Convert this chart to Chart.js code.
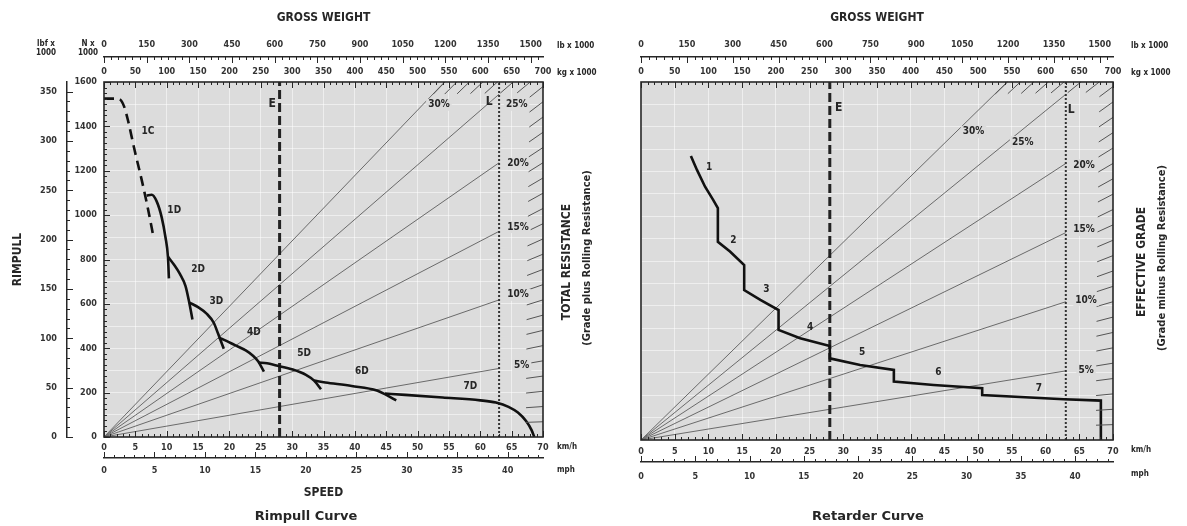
<!DOCTYPE html>
<html>
<head>
<meta charset="utf-8">
<script src="https://cdn.jsdelivr.net/npm/chart.js@4.4.1/dist/chart.umd.min.js"></script>
<style>
  html, body { margin: 0; padding: 0; background: #fff; }
  #wrap { position: relative; width: 1187px; height: 526px; }
  canvas { position: absolute; top: 0; }
  #rimpull { left: 0; }
  #retarder { left: 600px; }
</style>
</head>
<body>
<div id="wrap">
  <canvas id="rimpull" width="600" height="526"></canvas>
  <canvas id="retarder" width="587" height="526"></canvas>
</div>
<script>
const INK = "#262626";
const PLOT_BG = "#dcdcdc";
const GRID = "rgba(255,255,255,0.5)";
const COND = "'Liberation Sans Narrow', 'DejaVu Sans Condensed', 'Arial Narrow', sans-serif";

// secondary scales are unit conversions of the primary ones
const KMH_MAX = 70, MPH_MAX = 70 / 1.609344;
const KN_MAX = 1600, KLBF_MAX = 1600 / 4.44822;
const T_MAX = 700, KLB_MAX = 700 * 2.20462;
const G = 9.81; // kN per tonne, used for the grade scale ticks

/* rimpull curve: [km/h, kN] per gear */
const gear1C = [[0,1525],[1.8,1525],[2.6,1520],[3.2,1490],[3.8,1430],[4.9,1290],[6.0,1160],[7.0,1030],[7.9,900]];
const gear1D = [[6.8,1088],[7.6,1092],[8.4,1062],[9.2,990],[9.8,900],[10.2,810],[10.35,715]];
const gear2D = [[10.2,812],[11.2,775],[12.1,735],[13.0,680],[13.6,605],[14.1,530]];
const gear3D = [[13.6,606],[15.0,585],[16.4,555],[17.5,515],[18.2,465],[18.6,435],[19.1,398]];
const gear4D = [[18.3,448],[19.6,432],[20.8,415],[22.6,390],[23.8,365],[24.6,340],[25.5,295]];
const gear5D = [[24.6,336],[26.0,332],[27.5,322],[30.1,304],[32.2,280],[33.5,254],[34.6,215]];
const gear6D = [[33.5,254],[35.3,246],[39.5,230],[43.5,210],[45.0,190],[46.6,165]];
const gear7D = [[44.8,196],[48,190],[54,178],[60,165],[62.5,155],[64.5,136],[66,110],[67.3,72],[68.2,30],[68.6,0]];
const rimpullGears = ["1C","1D","2D","3D","4D","5D","6D","7D"];
const rimpullLabelAt = [[7.0,1376],[11.2,1022],[15.0,757],[17.9,610],[23.9,471],[31.9,376],[41.1,296],[58.4,229]];

/* retarder curve: [km/h, kN] */
const retarderCurve = [[7.4,1269],[8.3,1207],[9.5,1132],[10.7,1073],[11.4,1036],[11.4,886],[13.2,842],[15.3,782],
  [15.3,670],[17.7,626],[20.4,581],[20.4,492],[23.6,455],[28.0,420],[28.0,365],[32.5,335],[37.5,313],[37.5,261],
  [43.4,246],[50.6,231],[50.6,201],[62.7,182],[68.2,176],[68.2,0]];
const retarderGears = ["1","2","3","4","5","6","7"];
const retarderLabelAt = [[10.1,1220],[13.7,890],[18.6,675],[25.1,505],[32.8,393],[44.1,300],[59.0,232]];

/* grade lines: tonnes / kN at the end of each line */
const gradePct = [5, 10, 15, 20, 25, 30];
const gradeEndT = [630, 630, 630, 630, 630, 543];
const gradeEndKN = [309, 618, 927, 1236, 1545, 1600];
const gradeTicks = [1,2,3,4,5,6,7,8,9,10,11,12,13,14,15,16,17,18,19,20,21,22,23,24,25,26,27,28,29,30];
const emptyT = 280, loadedT = 630;

function font(size, bold, family) {
  return (bold ? "bold " : "") + size + "px " + (family || COND);
}

function text(ctx, str, x, y, f, opt) {
  opt = opt || {};
  ctx.save();
  ctx.font = f;
  ctx.textAlign = opt.align || "center";
  ctx.textBaseline = "middle";
  ctx.translate(x, y);
  if (opt.rotate) ctx.rotate(opt.rotate);
  if (opt.bg) {
    const w = ctx.measureText(str).width;
    ctx.fillStyle = opt.bg;
    ctx.fillRect(-w / 2 - 2, -6, w + 4, 12);
  }
  ctx.fillStyle = opt.color || INK;
  ctx.fillText(str, 0, 0);
  ctx.restore();
}

// minor/major tick marks along a scale edge; dir points away from the edge
function tickMarks(ctx, scale, step, major, dir) {
  const n = Math.floor(scale.max / step + 1e-6);
  ctx.beginPath();
  for (let i = 0; i <= n; i++) {
    const v = i * step;
    const len = Math.abs(v / major - Math.round(v / major)) < 1e-6 ? 6 : 3;
    const p = Math.round(scale.getPixelForValue(v)) + 0.5;
    if (scale.isHorizontal()) {
      const y0 = dir > 0 ? scale.bottom : scale.top;
      ctx.moveTo(p, y0);
      ctx.lineTo(p, y0 + dir * len);
    } else {
      ctx.moveTo(scale.right, p);
      ctx.lineTo(scale.right + dir * len, p);
    }
  }
  ctx.stroke();
}

// short grade-scale marks where each 1 % line meets the frame
function gradeScale(ctx, chart) {
  const kg = chart.scales.kg, kN = chart.scales.kN;
  const x0 = kg.getPixelForValue(0), y0 = kN.getPixelForValue(0);
  ctx.beginPath();
  gradeTicks.forEach(g => {
    let w = kg.max, f = g / 100 * w * G;
    if (f > kN.max) { f = kN.max; w = f / (g / 100 * G); }
    const x1 = kg.getPixelForValue(w), y1 = kN.getPixelForValue(f);
    const d = Math.hypot(x1 - x0, y1 - y0);
    ctx.moveTo(x1, y1);
    ctx.lineTo(x1 - (x1 - x0) / d * 17, y1 - (y1 - y0) / d * 17);
  });
  ctx.strokeStyle = "#555";
  ctx.lineWidth = 1;
  ctx.stroke();
}

function curveSet(points, extra) {
  return Object.assign({
    data: points.map(([x, y]) => ({ x, y })),
    xAxisID: "kmh", yAxisID: "kN", showLine: true,
    borderColor: "#111", borderWidth: 2.6, pointRadius: 0,
    cubicInterpolationMode: "monotone"
  }, extra);
}

function referenceSets() {
  const sets = [
    { data: [{ x: emptyT, y: 0 }, { x: emptyT, y: KN_MAX }], borderDash: [9, 4], borderWidth: 3, borderColor: "#222" },
    { data: [{ x: loadedT, y: 0 }, { x: loadedT, y: KN_MAX }], borderDash: [2, 2], borderWidth: 2, borderColor: "#333" }
  ];
  gradePct.forEach((g, i) => sets.push({
    data: [{ x: 0, y: 0 }, { x: gradeEndT[i], y: gradeEndKN[i] }],
    borderColor: "#6a6a6a", borderWidth: 1
  }));
  return sets.map(s => Object.assign({ xAxisID: "kg", yAxisID: "kN", showLine: true, pointRadius: 0 }, s));
}

const plain = v => String(v);

function buildScales(p) {
  const tk = { color: "#333", font: { family: COND, size: 9, weight: "bold" }, autoSkip: false,
    maxRotation: 0, includeBounds: false, callback: plain };
  const scales = {
    kmh: { axis: "x", type: "linear", position: "bottom", weight: 0, min: 0, max: KMH_MAX,
      ticks: Object.assign({}, tk, { stepSize: 5, padding: p.kmhPad }),
      grid: { color: GRID, drawTicks: false }, border: { display: false },
      afterFit: s => { s.height = p.kmhH; } },
    mph: { axis: "x", type: "linear", position: "bottom", weight: 1, min: 0, max: MPH_MAX,
      ticks: Object.assign({}, tk, { stepSize: 5, padding: p.mphPad }),
      grid: { display: false, drawTicks: false }, border: { color: INK, width: 1.5 },
      afterFit: s => { s.height = p.mphH; } },
    kg: { axis: "x", type: "linear", position: "top", weight: 0, min: 0, max: T_MAX,
      ticks: Object.assign({}, tk, { stepSize: 50, padding: 5 }),
      grid: { display: false, drawTicks: false }, border: { display: false },
      afterFit: s => { s.height = 25; } },
    lb: { axis: "x", type: "linear", position: "top", weight: 1, min: 0, max: KLB_MAX,
      ticks: Object.assign({}, tk, { stepSize: 150, padding: 7 }),
      grid: { display: false, drawTicks: false }, border: { color: INK, width: 1.5 },
      afterFit: s => { s.height = 20; } },
    kN: { axis: "y", type: "linear", position: "left", weight: 0, min: 0, max: KN_MAX,
      ticks: Object.assign({}, tk, { stepSize: 100, padding: 7, display: p.forceLabels,
        callback: v => (v % 200 === 0 ? String(v) : "") }),
      grid: { color: GRID, drawTicks: false }, border: { display: false },
      afterFit: s => { s.width = p.kNW; } }
  };
  if (p.forceLabels) {
    scales.klbf = { axis: "y", type: "linear", position: "left", weight: 1, min: 0, max: KLBF_MAX,
      ticks: Object.assign({}, tk, { stepSize: 50, padding: 10 }),
      grid: { display: false, drawTicks: false }, border: { color: INK, width: 1.5 },
      afterFit: s => { s.width = 47; } };
  }
  return scales;
}

function panelDecor(p) {
  return {
    id: "panelDecor",
    beforeDraw(chart) {
      const a = chart.chartArea, ctx = chart.ctx;
      ctx.save();
      ctx.fillStyle = PLOT_BG;
      ctx.fillRect(a.left, a.top, a.right - a.left, a.bottom - a.top);
      ctx.restore();
    },
    afterDraw(chart) {
      const a = chart.chartArea, ctx = chart.ctx, s = chart.scales;
      ctx.save();
      gradeScale(ctx, chart);
      ctx.strokeStyle = INK;
      ctx.lineWidth = 1;
      tickMarks(ctx, s.kmh, 1, 5, -1);
      tickMarks(ctx, s.mph, 1, 5, -1);
      tickMarks(ctx, s.kg, 10, 50, 1);
      tickMarks(ctx, s.lb, 25, 150, 1);
      if (s.klbf) {
        tickMarks(ctx, s.kN, 25, 200, 1);
        tickMarks(ctx, s.klbf, 10, 50, 1);
      }
      ctx.lineWidth = 1.6;
      ctx.strokeRect(a.left, a.top, a.right - a.left, a.bottom - a.top);
      ctx.restore();

      const cx = (a.left + a.right) / 2;
      const ux = a.right + p.unitGap;
      text(ctx, "GROSS WEIGHT", cx, 18, font(12, true));
      text(ctx, "lb x 1000", ux, 46, font(8, true), { align: "left" });
      text(ctx, "kg x 1000", ux, 73, font(8, true), { align: "left" });
      text(ctx, "km/h", ux, s.kmh.top + 10, font(8, true), { align: "left" });
      text(ctx, "mph", ux, s.mph.top + 12, font(8, true), { align: "left" });
      text(ctx, p.title, p.titleX, 517, font(13, true, "'DejaVu Sans', sans-serif"));
      text(ctx, p.sideTitle, p.sideX, p.sideY, font(12, true), { rotate: -Math.PI / 2 });
      text(ctx, p.sideSub, p.sideX + 20, p.sideY - 4, font(11, true), { rotate: -Math.PI / 2 });

      // gear numbers
      p.gears.forEach((g, i) => {
        const [v, f] = p.gearAt[i];
        text(ctx, g, s.kmh.getPixelForValue(v), s.kN.getPixelForValue(f), font(10, true));
      });
      // grade percentages
      gradePct.forEach((g, i) => {
        const [w, f] = p.pctAt[i];
        text(ctx, g + "%", s.kg.getPixelForValue(w), s.kN.getPixelForValue(f), font(10, true), { bg: PLOT_BG });
      });
      text(ctx, "E", s.kg.getPixelForValue(p.eAt[0]), s.kN.getPixelForValue(p.eAt[1]), font(12, true));
      text(ctx, "L", s.kg.getPixelForValue(p.lAt[0]), s.kN.getPixelForValue(p.lAt[1]), font(12, true));

      if (p.forceLabels) {
        text(ctx, "SPEED", cx, 493, font(12, true));
        text(ctx, "RIMPULL", 18, (a.top + a.bottom) / 2, font(12, true), { rotate: -Math.PI / 2 });
        text(ctx, "lbf x", 46, 44, font(8, true));
        text(ctx, "1000", 46, 53, font(8, true));
        text(ctx, "N x", 88, 44, font(8, true));
        text(ctx, "1000", 88, 53, font(8, true));
      }
    }
  };
}

function makePanel(id, p) {
  return new Chart(document.getElementById(id), {
    type: "scatter",
    data: { datasets: p.datasets.concat(referenceSets()) },
    options: {
      responsive: false, animation: false, devicePixelRatio: 1, events: [],
      layout: { padding: p.padding },
      plugins: { legend: { display: false }, tooltip: { enabled: false } },
      scales: buildScales(p)
    },
    plugins: [panelDecor(p)]
  });
}

makePanel("rimpull", {
  datasets: [
    curveSet(gear1C, { borderDash: [10, 6] }),
    curveSet(gear1D), curveSet(gear2D), curveSet(gear3D), curveSet(gear4D),
    curveSet(gear5D), curveSet(gear6D), curveSet(gear7D)
  ],
  forceLabels: true, kNW: 37, kmhH: 21, kmhPad: 5, mphH: 22, mphPad: 7,
  padding: { left: 20, top: 37, right: 57, bottom: 46 },
  unitGap: 14, title: "Rimpull Curve", titleX: 306,
  sideTitle: "TOTAL RESISTANCE", sideSub: "(Grade plus Rolling Resistance)", sideX: 567, sideY: 262,
  gears: rimpullGears, gearAt: rimpullLabelAt,
  pctAt: [[666,323],[660,641],[660,946],[660,1232],[658,1497],[534,1497]],
  eAt: [268, 1501], lAt: [614, 1510]
});

makePanel("retarder", {
  datasets: [curveSet(retarderCurve, { cubicInterpolationMode: "default", tension: 0 })],
  forceLabels: false, kNW: 0, kmhH: 22, kmhPad: 6, mphH: 24, mphPad: 9,
  padding: { left: 41, top: 37, right: 74, bottom: 40 },
  unitGap: 18, title: "Retarder Curve", titleX: 268,
  sideTitle: "EFFECTIVE GRADE", sideSub: "(Grade minus Rolling Resistance)", sideX: 542, sideY: 262,
  gears: retarderGears, gearAt: retarderLabelAt,
  pctAt: [[660,313],[660,626],[657,939],[657,1229],[566,1332],[493,1377]],
  eAt: [293, 1484], lAt: [638, 1475]
});
</script>
</body>
</html>
